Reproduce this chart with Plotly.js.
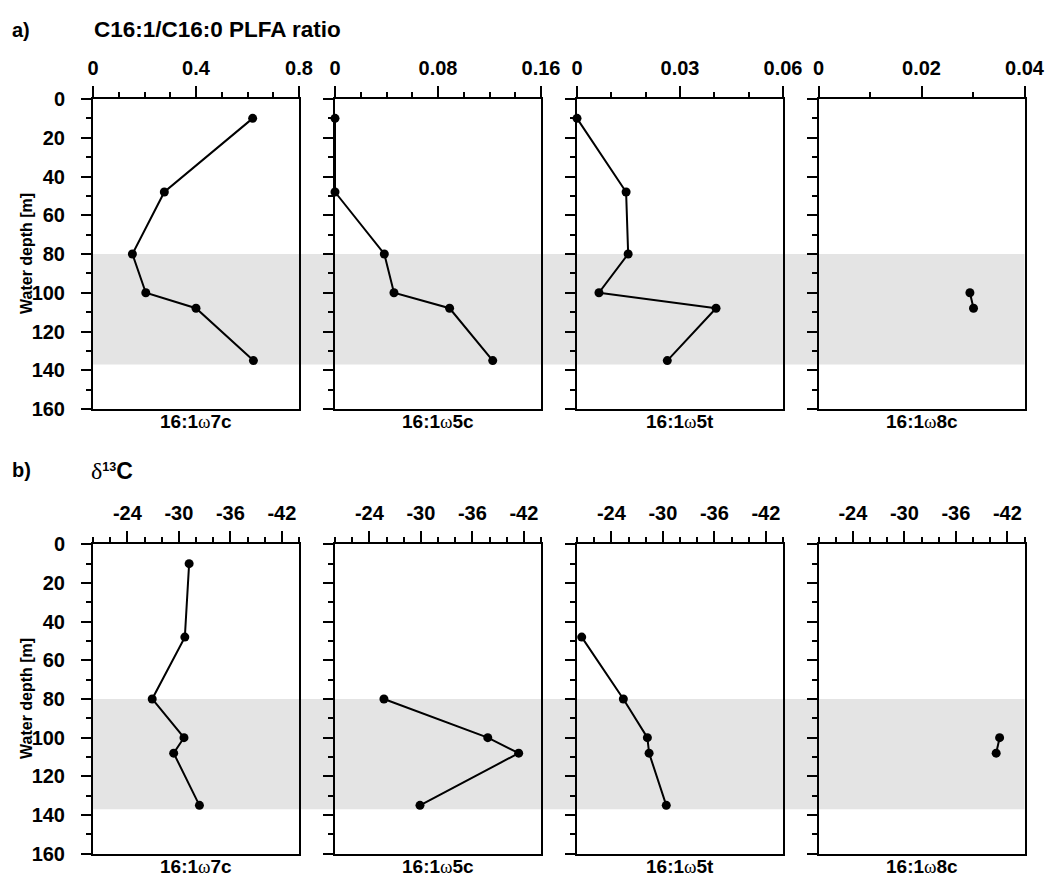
<!DOCTYPE html>
<html>
<head>
<meta charset="utf-8">
<script src="https://cdn.plot.ly/plotly-3.0.1.min.js"></script>
<style>html,body{margin:0;padding:0;background:#fff;}#chart{width:1046px;height:879px;}</style>
</head>
<body>
<div id="chart"></div>
<script>
// ---- data ----
const depthsRatio = [10, 48, 80, 100, 108, 135];
const ratio7c = [0.62, 0.277, 0.153, 0.205, 0.40, 0.623];
const ratio5c = [0, 0, 0.0383, 0.0458, 0.089, 0.1225];
const ratio5t = [0, 0.0143, 0.0149, 0.0064, 0.0405, 0.0263];
const depthsRatio8c = [100, 108];
const ratio8c = [0.0294, 0.0301];

const depthsD7c = [10, 48, 80, 100, 108, 135];
const d13C7c = [-31.2, -30.7, -26.9, -30.6, -29.4, -32.4];
const depthsD5c = [80, 100, 108, 135];
const d13C5c = [-25.7, -37.8, -41.4, -29.9];
const depthsD5t = [48, 80, 100, 108, 135];
const d13C5t = [-20.55, -25.4, -28.2, -28.4, -30.4];
const depthsD8c = [100, 108];
const d13C8c = [-41.1, -40.7];

const panelNames = ['16:1ω7c', '16:1ω5c', '16:1ω5t', '16:1ω8c'];
const ratioRanges = [[0, 0.8], [0, 0.16], [0, 0.06], [0, 0.04]];
const ratioMajor = [0.4, 0.08, 0.03, 0.02];
const ratioMinor = [0.1, 0.02, 0.01, 0.01];
const d13CRange = [-20, -44];
const d13CTickVals = [-24, -30, -36, -42];
const d13CTickText = ['-24', '-30', '-36', '-42'];
const depthRange = [160, 0];
const bandTop = 80, bandBottom = 137;

// ---- layout geometry ----
const W = 1046, H = 879;
const panelLeft = [93, 335, 577, 818.5];
const panelWidth = 206;
const rowTop = [99, 544.3];
const rowBottom = [409, 853.7];
const font = 'Liberation Sans, Arial, sans-serif';

const ratioSeries = [
  {x: ratio7c, y: depthsRatio},
  {x: ratio5c, y: depthsRatio},
  {x: ratio5t, y: depthsRatio},
  {x: ratio8c, y: depthsRatio8c}
];
const d13CSeries = [
  {x: d13C7c, y: depthsD7c},
  {x: d13C5c, y: depthsD5c},
  {x: d13C5t, y: depthsD5t},
  {x: d13C8c, y: depthsD8c}
];

const traces = [];
const layout = {
  width: W, height: H,
  margin: {l: 0, r: 0, t: 0, b: 0},
  paper_bgcolor: '#ffffff',
  plot_bgcolor: 'rgba(0,0,0,0)',
  showlegend: false,
  font: {family: font, color: '#000'},
  shapes: [],
  annotations: []
};

function axId(n) { return n === 1 ? '' : String(n); }

const tickFont = {family: font, size: 20, weight: 'bold', color: '#000'};

for (let row = 0; row < 2; row++) {
  const yd = [1 - rowBottom[row] / H, 1 - rowTop[row] / H];
  for (let p = 0; p < 4; p++) {
    const n = row * 4 + p + 1;
    const xa = 'xaxis' + axId(n), ya = 'yaxis' + axId(n);
    const xr = 'x' + axId(n), yr = 'y' + axId(n);
    const s = row === 0 ? ratioSeries[p] : d13CSeries[p];
    traces.push({
      type: 'scatter', mode: 'lines+markers',
      x: s.x, y: s.y, xaxis: xr, yaxis: yr,
      line: {color: '#000', width: 2},
      marker: {color: '#000', size: 9},
      cliponaxis: false, hoverinfo: 'skip'
    });
    const common = {
      showline: true, linewidth: 2, linecolor: '#000', mirror: true,
      showgrid: false, zeroline: false,
      ticks: 'outside', tickwidth: 2, tickcolor: '#000',
      tickfont: tickFont, fixedrange: true
    };
    const x0 = panelLeft[p] / W, x1 = (panelLeft[p] + panelWidth) / W;
    if (row === 0) {
      layout[xa] = Object.assign({}, common, {
        domain: [x0, x1], anchor: yr, side: 'top',
        range: ratioRanges[p], tickmode: 'linear', tick0: 0, dtick: ratioMajor[p],
        ticklen: 11, ticklabelstandoff: 3,
        minor: {ticks: 'outside', dtick: ratioMinor[p], tick0: 0, ticklen: 5, tickwidth: 2, tickcolor: '#000', showgrid: false}
      });
    } else {
      layout[xa] = Object.assign({}, common, {
        domain: [x0, x1], anchor: yr, side: 'top',
        range: d13CRange, tickmode: 'array', tickvals: d13CTickVals, ticktext: d13CTickText,
        ticklen: 11, ticklabelstandoff: 3,
        minor: {ticks: 'outside', tickmode: 'linear', dtick: 2, tick0: 0, ticklen: 5, tickwidth: 2, tickcolor: '#000', showgrid: false}
      });
    }
    layout[ya] = Object.assign({}, common, {
      domain: yd, anchor: xr, side: 'left',
      range: depthRange, tickmode: 'linear', tick0: 0, dtick: 20,
      ticklen: 10, ticklabelstandoff: 12,
      showticklabels: p === 0,
      minor: {ticks: 'outside', dtick: 10, tick0: 0, ticklen: 5, tickwidth: 2, tickcolor: '#000', showgrid: false}
    });
    layout.annotations.push({
      xref: xr + ' domain', yref: yr + ' domain', x: 0.5, y: 0,
      xanchor: 'center', yanchor: 'middle', yshift: -13, showarrow: false,
      text: panelNames[p].replace('ω', '<span style="font-family:\'Liberation Serif\';font-weight:normal">ω</span>'),
      font: {family: font, size: 19, weight: 'bold', color: '#000'}
    });
  }
  // shaded band across the row
  layout.shapes.push({
    type: 'rect', layer: 'below', xref: 'paper', yref: 'y' + axId(row * 4 + 1),
    x0: panelLeft[0] / W, x1: (panelLeft[3] + panelWidth) / W,
    y0: bandTop, y1: bandBottom,
    fillcolor: '#e4e4e4', line: {width: 0}
  });
  // y title
  layout.annotations.push({
    xref: 'paper', yref: 'y' + axId(row * 4 + 1) + ' domain', x: 26 / W, y: 0.5,
    xanchor: 'center', yanchor: 'middle', textangle: -90, showarrow: false,
    text: 'Water depth [m]', font: {family: font, size: 16, weight: 'bold', color: '#000'}
  });
}

// row headings
layout.annotations.push(
  {xref: 'paper', yref: 'paper', x: 10 / W, y: 1 - 30 / H, xanchor: 'left', yanchor: 'middle', showarrow: false,
   text: 'a)', font: {family: font, size: 20, weight: 'bold', color: '#000'}},
  {xref: 'paper', yref: 'paper', x: 92 / W, y: 1 - 30 / H, xanchor: 'left', yanchor: 'middle', showarrow: false,
   text: 'C16:1/C16:0 PLFA ratio', font: {family: font, size: 22.5, weight: 'bold', color: '#000'}},
  {xref: 'paper', yref: 'paper', x: 10 / W, y: 1 - 470 / H, xanchor: 'left', yanchor: 'middle', showarrow: false,
   text: 'b)', font: {family: font, size: 20, weight: 'bold', color: '#000'}},
  {xref: 'paper', yref: 'paper', x: 89 / W, y: 1 - 471 / H, xanchor: 'left', yanchor: 'middle', showarrow: false,
   text: '<span style="font-family:\'Liberation Serif\';font-weight:normal;font-size:24px">δ</span><sup>13</sup><span style="font-size:23px">C</span>',
   font: {family: font, size: 18, weight: 'bold', color: '#000'}}
);

Plotly.newPlot('chart', traces, layout, {staticPlot: true, displayModeBar: false});
</script>
</body>
</html>
